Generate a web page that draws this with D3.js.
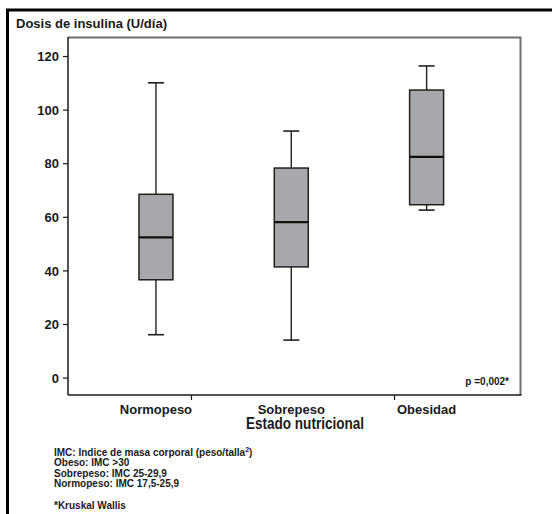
<!DOCTYPE html>
<html>
<head>
<meta charset="utf-8">
<script src="https://cdn.jsdelivr.net/npm/d3@7"></script>
<style>
  body { margin: 0; background: #fff; }
  text { font-family: "Liberation Sans", Arial, sans-serif; font-weight: bold; fill: #1a1a1a; }
</style>
</head>
<body>
<div id="chart"></div>
<script>
// data
var categories = ['Normopeso', 'Sobrepeso', 'Obesidad'];
var whiskerLow = [16, 14, 62.5];
var q1 = [36.5, 41.3, 64.5];
var medians = [52.3, 58, 82.4];
var q3 = [68.4, 78.2, 107.3];
var whiskerHigh = [110, 92, 116.3];
var yTicks = [0, 20, 40, 60, 80, 100, 120];
var notes = ['IMC: Indice de masa corporal (peso/talla', 'Obeso: IMC >30', 'Sobrepeso: IMC 25-29,9', 'Normopeso: IMC 17,5-25,9'];

var width = 552, height = 514;
var plot_left = 68, plot_right = 520, plot_top = 37, plot_bottom = 395;
var box_width = 34, cap_width = 16;

var svg = d3.select('#chart').append('svg')
    .attr('width', width)
    .attr('height', height);

// outer frame (left + top only visible)
svg.append('path')
    .attr('d', 'M7.5,' + height + 'V10H' + width)
    .attr('fill', 'none')
    .attr('stroke', '#000')
    .attr('stroke-width', 3);

var y = d3.scaleLinear().domain([-6.5, 127.1]).range([plot_bottom, plot_top]);
var x = d3.scalePoint().domain(categories).range([plot_left, plot_right]).padding(0.67).align(0.485);

// plot frame: gray top/right, black axes
svg.append('path')
    .attr('d', 'M' + plot_left + ',' + (plot_top + 0.5) + 'H' + (plot_right + 0.5) + 'V' + plot_bottom)
    .attr('fill', 'none')
    .attr('stroke', '#6d6e70')
    .attr('stroke-width', 2);

var yAxis = svg.append('g')
    .attr('transform', 'translate(' + plot_left + ',0)')
    .call(d3.axisLeft(y).tickValues(yTicks).tickSize(5).tickPadding(4));
yAxis.select('.domain').attr('stroke', '#1a1a1a').attr('stroke-width', 1.5)
    .attr('d', 'M0,' + plot_top + 'V' + plot_bottom);
yAxis.selectAll('.tick line').attr('stroke', '#1a1a1a').attr('stroke-width', 1.2);
yAxis.selectAll('.tick text').style('font-size', '13px').attr('dy', '0.36em');

svg.append('line')
    .attr('x1', plot_left).attr('x2', plot_right + 1.5)
    .attr('y1', plot_bottom).attr('y2', plot_bottom)
    .attr('stroke', '#1a1a1a').attr('stroke-width', 1.5);

// x ticks sit off-centre in the original
var tickShift = [0.26, null, -0.24];
categories.forEach(function(c, i){
  if (tickShift[i] === null) return;
  var tx = Math.round(x(c) + tickShift[i] * x.step()) + 0.5;
  svg.append('line')
      .attr('x1', tx).attr('x2', tx)
      .attr('y1', plot_bottom).attr('y2', plot_bottom + 5)
      .attr('stroke', '#1a1a1a').attr('stroke-width', 1.2);
});

categories.forEach(function(c, i){
  svg.append('text')
      .attr('x', x(c))
      .attr('y', 414)
      .attr('text-anchor', 'middle')
      .style('font-size', '13px')
      .text(c);
});

// boxes
categories.forEach(function(c, i){
  var cx = x(c);
  var g = svg.append('g');
  g.append('line')
      .attr('x1', cx).attr('x2', cx)
      .attr('y1', y(whiskerHigh[i])).attr('y2', y(whiskerLow[i]))
      .attr('stroke', '#231f20').attr('stroke-width', 1.4);
  [whiskerHigh[i], whiskerLow[i]].forEach(function(v){
    g.append('line')
        .attr('x1', cx - cap_width / 2).attr('x2', cx + cap_width / 2)
        .attr('y1', y(v)).attr('y2', y(v))
        .attr('stroke', '#231f20').attr('stroke-width', 1.6);
  });
  g.append('rect')
      .attr('x', cx - box_width / 2)
      .attr('y', y(q3[i]))
      .attr('width', box_width)
      .attr('height', y(q1[i]) - y(q3[i]))
      .attr('fill', '#a7a8ab')
      .attr('stroke', '#231f20')
      .attr('stroke-width', 1.5);
  g.append('line')
      .attr('x1', cx - box_width / 2).attr('x2', cx + box_width / 2)
      .attr('y1', y(medians[i])).attr('y2', y(medians[i]))
      .attr('stroke', '#111').attr('stroke-width', 2.2);
});

// titles
svg.append('text')
    .attr('x', 16).attr('y', 28)
    .style('font-size', '13px')
    .text('Dosis de insulina (U/día)');

svg.append('text')
    .attr('x', 305).attr('y', 429)
    .attr('text-anchor', 'middle')
    .attr('textLength', 118)
    .attr('lengthAdjust', 'spacingAndGlyphs')
    .style('font-size', '16px')
    .text('Estado nutricional');

svg.append('text')
    .attr('x', 509).attr('y', 385)
    .attr('text-anchor', 'end')
    .style('font-size', '10px')
    .text('p =0,002*');

// footnotes
notes.forEach(function(n, i){
  var t = svg.append('text')
      .attr('x', 54).attr('y', 456 + i * 10.3)
      .style('font-size', '10px')
      .text(n);
  if (i === 0) {
    t.append('tspan').attr('dy', -4).style('font-size', '7px').text('2');
    t.append('tspan').attr('dy', 4).text(')');
  }
});
svg.append('text')
    .attr('x', 54).attr('y', 509)
    .style('font-size', '10px')
    .text('*Kruskal Wallis');
</script>
</body>
</html>
